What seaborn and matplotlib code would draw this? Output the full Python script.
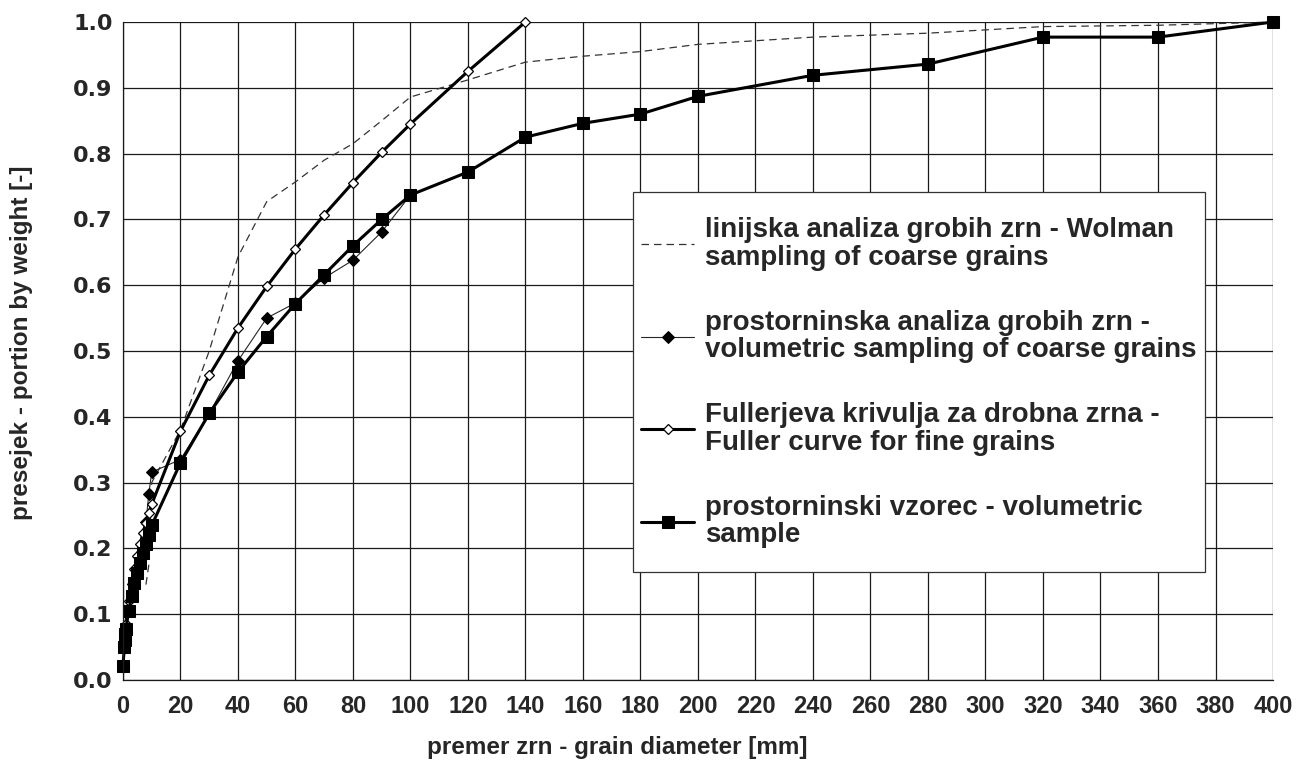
import matplotlib
matplotlib.use("Agg")
import matplotlib.pyplot as plt
import seaborn as sns
import pandas as pd

# --- data ---
wolman_x = [8, 9, 10, 20, 30, 40, 50, 60, 70, 80, 90, 100, 120, 140, 160, 180, 200, 240, 280, 320, 360, 400]
wolman_y = [0.145, 0.175, 0.30, 0.38, 0.50, 0.643, 0.727, 0.757, 0.79, 0.815, 0.85, 0.886, 0.912, 0.939,
            0.948, 0.955, 0.966, 0.977, 0.983, 0.993, 0.995, 1.0]

coarse_x = [8, 9, 10, 20, 30, 40, 50, 60, 70, 80, 90, 100]
coarse_y = [0.24, 0.283, 0.316, 0.335, 0.405, 0.485, 0.55, 0.573, 0.611, 0.638, 0.681, 0.737]

fuller_x = [1, 2, 3, 4, 5, 6, 7, 8, 9, 10, 20, 30, 40, 50, 60, 70, 80, 90, 100, 120, 140]
fuller_y = [0.085, 0.12, 0.146, 0.169, 0.189, 0.207, 0.224, 0.239, 0.254, 0.267, 0.378, 0.463, 0.535,
            0.598, 0.655, 0.707, 0.756, 0.802, 0.845, 0.925, 1.0]

sample_x = [0, 0.5, 0.63, 0.8, 1, 2, 3, 4, 5, 6, 7, 8, 9, 10, 20, 30, 40, 50, 60, 70, 80, 90, 100,
            120, 140, 160, 180, 200, 240, 280, 320, 360, 400]
sample_y = [0.022, 0.05, 0.06, 0.07, 0.078, 0.105, 0.128, 0.148, 0.163, 0.178, 0.193, 0.207, 0.22, 0.235,
            0.33, 0.405, 0.468, 0.522, 0.572, 0.616, 0.66, 0.70, 0.737, 0.772, 0.825, 0.846, 0.86,
            0.887, 0.919, 0.936, 0.977, 0.977, 1.0]

labels = [
    "linijska analiza grobih zrn - Wolman\nsampling of coarse grains",
    "prostorninska analiza grobih zrn -\nvolumetric sampling of coarse grains",
    "Fullerjeva krivulja za drobna zrna -\nFuller curve for fine grains",
    "prostorninski vzorec - volumetric\nsample",
]

x_ticks = list(range(0, 401, 20))
y_ticks = [i / 10 for i in range(11)]

sns.set_style("white")
plt.rcParams['font.family'] = ['Liberation Sans', 'DejaVu Sans']

fig = plt.figure(figsize=(12.97, 7.66), dpi=100)
ax = fig.add_axes([0.0948, 0.1123, 0.8867, 0.859])

# grid first so the curves sit on top
ax.set_axisbelow(True)
ax.grid(True, color="0.1", linewidth=0.9)

df_w = pd.DataFrame({"x": wolman_x, "y": wolman_y})
df_c = pd.DataFrame({"x": coarse_x, "y": coarse_y})
df_f = pd.DataFrame({"x": fuller_x, "y": fuller_y})
df_s = pd.DataFrame({"x": sample_x, "y": sample_y})

sns.lineplot(data=df_w, x="x", y="y", ax=ax, sort=False, estimator=None, color="0.2",
             linewidth=0.9, dashes=False, linestyle=(0, (6, 4)), label=labels[0], clip_on=False)
sns.lineplot(data=df_c, x="x", y="y", ax=ax, sort=False, estimator=None, color="0.15",
             linewidth=0.8, marker="D", markersize=6, markerfacecolor="black",
             markeredgecolor="black", label=labels[1], clip_on=False)
sns.lineplot(data=df_f, x="x", y="y", ax=ax, sort=False, estimator=None, color="black",
             linewidth=2.2, marker="D", markersize=5.5, markerfacecolor="white",
             markeredgecolor="black", markeredgewidth=0.9, label=labels[2], clip_on=False)
sns.lineplot(data=df_s, x="x", y="y", ax=ax, sort=False, estimator=None, color="black",
             linewidth=2.2, marker="s", markersize=9, markerfacecolor="black",
             markeredgecolor="black", label=labels[3], clip_on=False)

ax.set_xlim(0, 400)
ax.set_ylim(0, 1.0)
ax.set_xticks(x_ticks)
ax.set_yticks(y_ticks)
ax.set_xticklabels([str(v) for v in x_ticks], fontsize=17, fontweight="bold")
ax.set_yticklabels([f"{v:.1f}" for v in y_ticks], fontsize=16, fontweight="bold",
                   family=["DejaVu Sans"])
ax.tick_params(axis="both", direction="out", length=6, width=0.9, color="0.1")
ax.tick_params(axis="x", pad=5)
ax.tick_params(axis="y", pad=1.5)

for side in ["top", "right"]:
    ax.spines[side].set_visible(False)
for side in ["left", "bottom"]:
    ax.spines[side].set_color("0.1")
    ax.spines[side].set_linewidth(0.9)

ax.set_xlabel("premer zrn - grain diameter [mm]", fontsize=17.5, fontweight="bold")
ax.set_ylabel("presejek - portion by weight [-]", fontsize=17.5, fontweight="bold")
ax.xaxis.set_label_coords(0.43, -0.085)
ax.yaxis.set_label_coords(-0.078, 0.512)

# legend box drawn by hand so its height can differ from the padding around the text
box = plt.Rectangle((0.4435, 0.1641), 0.4974, 0.5775, transform=ax.transAxes,
                    facecolor="white", edgecolor="0.2", linewidth=0.9, zorder=4.9, clip_on=False)
ax.add_patch(box)

leg = ax.legend(loc="upper left", bbox_to_anchor=(0.4435, 0.716), frameon=False,
                prop={"weight": "bold", "size": 20}, handlelength=1.9, handletextpad=0.4,
                labelspacing=1.4, borderpad=0.3, borderaxespad=0)
leg.set_zorder(5)
for t in leg.get_texts():
    t.set_linespacing(1.08)

fig.savefig("out.png", dpi=100)
